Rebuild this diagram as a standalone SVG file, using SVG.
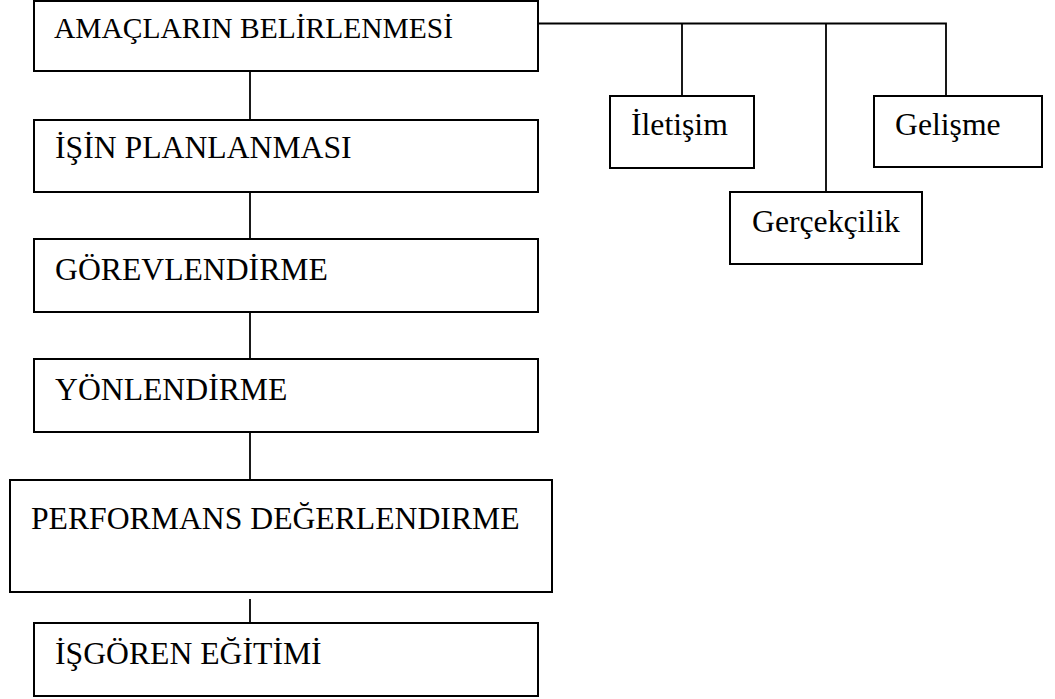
<svg xmlns="http://www.w3.org/2000/svg" width="1055" height="699" viewBox="0 0 1055 699">
<style>
.box{fill:#fff;stroke:#000;stroke-width:2}
.t{font-family:"Liberation Serif","Times New Roman",serif;font-size:31.7px;fill:#000}
.c{fill:none;stroke:#000;stroke-width:1.8}
</style>
<rect width="1055" height="699" fill="#fff"/>
<g id="connectors">
<line class="c" x1="250" y1="71" x2="250" y2="120"/>
<line class="c" x1="250" y1="192" x2="250" y2="239"/>
<line class="c" x1="250" y1="312" x2="250" y2="359"/>
<line class="c" x1="250" y1="432" x2="250" y2="480"/>
<line class="c" x1="250" y1="599" x2="250" y2="623"/>
<polyline class="c" points="538,23.5 946,23.5 946,96"/>
<line class="c" x1="682" y1="23.5" x2="682" y2="96"/>
<line class="c" x1="826" y1="23.5" x2="826" y2="192"/>
</g>
<g id="n1"><rect class="box" x="34" y="1" width="504" height="70"/><text class="t" x="54" y="38" style="font-size:29.5px">AMAÇLARIN BELİRLENMESİ</text></g>
<g id="n2"><rect class="box" x="34" y="120" width="504" height="72"/><text class="t" x="55" y="158">İŞİN PLANLANMASI</text></g>
<g id="n3"><rect class="box" x="34" y="239" width="504" height="73"/><text class="t" x="55" y="280">GÖREVLENDİRME</text></g>
<g id="n4"><rect class="box" x="34" y="359" width="504" height="73"/><text class="t" x="55" y="400">YÖNLENDİRME</text></g>
<g id="n5"><rect class="box" x="10" y="480" width="542" height="112"/><text class="t" x="31" y="529">PERFORMANS DEĞERLENDIRME</text></g>
<g id="n6"><rect class="box" x="34" y="623" width="504" height="73"/><text class="t" x="55" y="664">İŞGÖREN EĞİTİMİ</text></g>
<g id="n7"><rect class="box" x="610" y="96" width="144" height="72"/><text class="t" x="631" y="135">İletişim</text></g>
<g id="n8"><rect class="box" x="730" y="192" width="192" height="72"/><text class="t" x="752" y="232">Gerçekçilik</text></g>
<g id="n9"><rect class="box" x="874" y="96" width="168" height="71"/><text class="t" x="895" y="135">Gelişme</text></g>
</svg>
